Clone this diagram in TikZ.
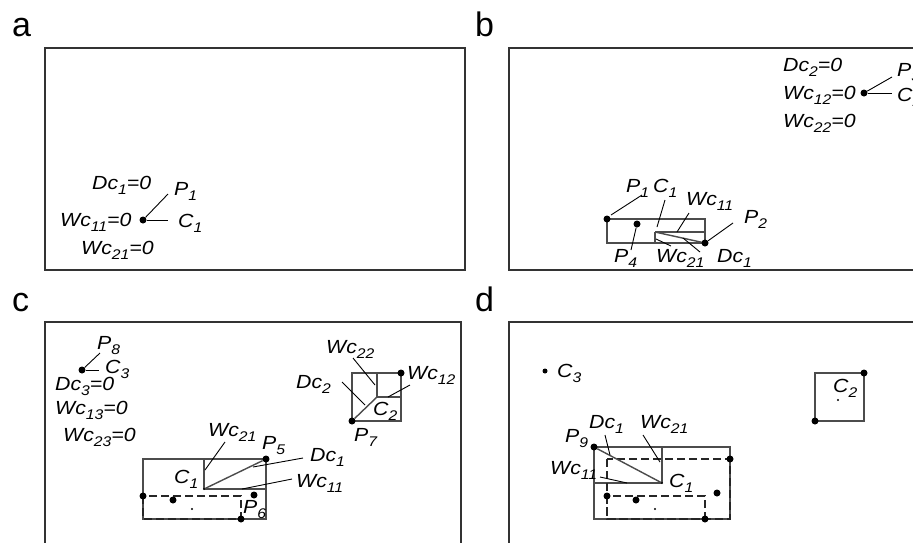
\documentclass[tikz,border=0pt]{standalone}
\usepackage{fontspec}
\usepackage{graphicx}
\setmainfont{Liberation Sans}
\newfontfamily\lblfam[FakeStretch=1.12]{Liberation Sans}
\newcommand{\lblfont}{\lblfam\fontsize{19}{21}\selectfont\itshape}
\newcommand{\sbx}[1]{\raisebox{-0.5ex}{\fontsize{14}{14}\selectfont #1}}
\tikzset{
  panel/.style={draw=black!80, line width=1.7pt},
  ln/.style={draw=black!70, line width=1.4pt},
  leader/.style={draw=black, line width=0.9pt},
  dashbox/.style={draw=black!85, line width=1.9pt, dash pattern=on 8pt off 4pt},
  dot/.style={circle, fill=black, inner sep=0pt, minimum size=7pt},
  sdot/.style={circle, fill=black, inner sep=0pt, minimum size=2.2pt},
  lab/.style={font=\lblfont, anchor=base west, inner sep=0pt},
  plab/.style={font=\fontsize{34}{36}\selectfont, anchor=base west, inner sep=0pt}
}
\begin{document}
\begin{tikzpicture}[x=1pt,y=-1pt]
\useasboundingbox (0,0) rectangle (913,542);
\clip (0,0) rectangle (913,542);
\fill[white] (0,0) rectangle (913,542);
% panel letters
\node[plab] (la) at (12,36) {a};
\node[plab] (lb) at (475,36) {b};
\node[plab] (lc) at (12,311) {c};
\node[plab] (ld) at (475,311) {d};
% panel borders
\draw[panel] (45,48) rectangle (465,270);
\draw[panel] (509,48) rectangle (930,270);
\draw[panel] (45,322) rectangle (461,560);
\draw[panel] (509,322) rectangle (930,560);

% ---------- panel a ----------
\node[dot] (a-c1) at (143,220) {};
\coordinate (a-p1e) at (168,194);
\coordinate (a-c1e) at (168,220);
\draw[leader] (a-c1) -- (a-p1e);
\draw[leader] (a-c1) -- (a-c1e);
\node[lab] (a-dc) at (92,189) {Dc\sbx{1}=0};
\node[lab] (a-wc11) at (60,226) {Wc\sbx{11}=0};
\node[lab] (a-wc21) at (81,254) {Wc\sbx{21}=0};
\node[lab] (a-p1) at (174,195) {P\sbx{1}};
\node[lab] (a-c1l) at (178,227) {C\sbx{1}};

% ---------- panel b ----------
\coordinate (b-tl) at (607,219);
\coordinate (b-br) at (705,243);
\coordinate (b-c1) at (655,232);
\coordinate (b-ir) at (705,232);
\coordinate (b-ib) at (655,243);
\draw[ln] (b-tl) rectangle (b-br);
\draw[ln] (b-c1) -- (b-ir);
\draw[ln] (b-c1) -- (b-ib);
\draw[ln] (b-c1) -- (b-br);
\node[dot] (b-p1) at (b-tl) {};
\node[dot] (b-p2) at (b-br) {};
\node[dot] (b-p4) at (637,224) {};
\coordinate (b-p1e) at (642,195);
\coordinate (b-p1s) at (611,215);
\coordinate (b-c1e) at (665,200);
\coordinate (b-c1s) at (657,227);
\coordinate (b-w11e) at (689,213);
\coordinate (b-w11s) at (677,232);
\coordinate (b-p2e) at (733,223);
\coordinate (b-p4e) at (631,250);
\coordinate (b-w21s) at (656,239);
\coordinate (b-w21e) at (671,246);
\coordinate (b-dcs) at (683,238);
\coordinate (b-dce) at (700,252);
\draw[leader] (b-p1s) -- (b-p1e);
\draw[leader] (b-c1s) -- (b-c1e);
\draw[leader] (b-w11s) -- (b-w11e);
\draw[leader] (b-p2) -- (b-p2e);
\draw[leader] (b-p4) -- (b-p4e);
\draw[leader] (b-w21s) -- (b-w21e);
\draw[leader] (b-dcs) -- (b-dce);
\node[lab] (b-p1l) at (626,192) {P\sbx{1}};
\node[lab] (b-c1l) at (653,192) {C\sbx{1}};
\node[lab] (b-w11l) at (686,205) {Wc\sbx{11}};
\node[lab] (b-p2l) at (744,223) {P\sbx{2}};
\node[lab] (b-p4l) at (614,262) {P\sbx{4}};
\node[lab] (b-w21l) at (656,262) {Wc\sbx{21}};
\node[lab] (b-dcl) at (717,262) {Dc\sbx{1}};
% top right of b
\node[dot] (b-c2) at (864,93) {};
\coordinate (b-p3e) at (892,77);
\coordinate (b-c2e) at (892,93);
\draw[leader] (b-c2) -- (b-p3e);
\draw[leader] (b-c2) -- (b-c2e);
\node[lab] (b-dc2) at (783,71) {Dc\sbx{2}=0};
\node[lab] (b-wc12) at (783,99) {Wc\sbx{12}=0};
\node[lab] (b-wc22) at (783,127) {Wc\sbx{22}=0};
\node[lab] (b-p3l) at (897,76) {P\sbx{3}};
\node[lab] (b-c2l) at (897,101) {C\sbx{2}};

% ---------- panel c ----------
\node[dot] (c-c3) at (82,370) {};
\coordinate (c-p8e) at (100,353);
\coordinate (c-c3e) at (99,370);
\draw[leader] (c-c3) -- (c-p8e);
\draw[leader] (c-c3) -- (c-c3e);
\node[lab] (c-p8l) at (97,349) {P\sbx{8}};
\node[lab] (c-c3l) at (105,373) {C\sbx{3}};
\node[lab] (c-dc3) at (55,390) {Dc\sbx{3}=0};
\node[lab] (c-wc13) at (55,414) {Wc\sbx{13}=0};
\node[lab] (c-wc23) at (63,441) {Wc\sbx{23}=0};
% C1 block
\coordinate (c-tl) at (143,459);
\coordinate (c-br) at (266,519);
\coordinate (c-c1) at (204,489);
\coordinate (c-it) at (204,459);
\coordinate (c-ir) at (266,489);
\draw[ln] (c-tl) rectangle (c-br);
\draw[ln] (c-c1) -- (c-it);
\draw[ln] (c-c1) -- (c-ir);
\node[dot] (c-p5) at (266,459) {};
\draw[ln] (c-c1) -- (c-p5);
\node[sdot] (c-c1d) at (c-c1) {};
\coordinate (c-dtl) at (143,496);
\coordinate (c-dbr) at (241,519);
\draw[dashbox] (c-dtl) rectangle (c-dbr);
\node[dot] (c-d1) at (c-dtl) {};
\node[dot] (c-d2) at (c-dbr) {};
\node[dot] (c-d3) at (173,500) {};
\node[dot] (c-p6) at (254,495) {};
\node[sdot] (c-d4) at (192,509) {};
\coordinate (c-w21s) at (225,442);
\coordinate (c-w21e) at (205,470);
\coordinate (c-dcs) at (303,458);
\coordinate (c-dce) at (253,467);
\coordinate (c-w11s) at (292,479);
\coordinate (c-w11e) at (242,489);
\draw[leader] (c-w21s) -- (c-w21e);
\draw[leader] (c-dcs) -- (c-dce);
\draw[leader] (c-w11s) -- (c-w11e);
\node[lab] (c-w21l) at (208,436) {Wc\sbx{21}};
\node[lab] (c-p5l) at (262,449) {P\sbx{5}};
\node[lab] (c-dcl) at (310,461) {Dc\sbx{1}};
\node[lab] (c-w11l) at (296,487) {Wc\sbx{11}};
\node[lab] (c-c1l) at (174,483) {C\sbx{1}};
\node[lab] (c-p6l) at (243,513) {P\sbx{6}};
% C2 block
\coordinate (c-stl) at (352,373);
\coordinate (c-sbr) at (401,421);
\coordinate (c-c2) at (377,397);
\coordinate (c-st) at (377,373);
\coordinate (c-sr) at (401,397);
\draw[ln] (c-stl) rectangle (c-sbr);
\draw[ln] (c-c2) -- (c-st);
\draw[ln] (c-c2) -- (c-sr);
\node[dot] (c-p7) at (352,421) {};
\node[dot] (c-s2) at (401,373) {};
\draw[ln] (c-p7) -- (c-c2);
\coordinate (c-w22s) at (353,358);
\coordinate (c-w22e) at (375,385);
\coordinate (c-dc2s) at (342,382);
\coordinate (c-dc2e) at (365,405);
\coordinate (c-w12s) at (410,385);
\coordinate (c-w12e) at (388,397);
\draw[leader] (c-w22s) -- (c-w22e);
\draw[leader] (c-dc2s) -- (c-dc2e);
\draw[leader] (c-w12s) -- (c-w12e);
\node[lab] (c-w22l) at (326,353) {Wc\sbx{22}};
\node[lab] (c-w12l) at (407,379) {Wc\sbx{12}};
\node[lab] (c-dc2l) at (296,388) {Dc\sbx{2}};
\node[lab] (c-c2l) at (373,415) {C\sbx{2}};
\node[lab] (c-p7l) at (354,441) {P\sbx{7}};

% ---------- panel d ----------
\node[circle, fill=black, inner sep=0pt, minimum size=5pt] (d-c3) at (545,371) {};
\node[lab] (d-c3l) at (557,377) {C\sbx{3}};
\coordinate (d-tl) at (594,447);
\coordinate (d-br) at (730,519);
\coordinate (d-c1) at (662,483);
\coordinate (d-il) at (594,483);
\coordinate (d-it) at (662,447);
\draw[ln] (d-tl) rectangle (d-br);
\draw[ln] (d-c1) -- (d-il);
\draw[ln] (d-c1) -- (d-it);
\coordinate (d-btl) at (607,459);
\draw[dashbox] (d-btl) rectangle (d-br);
\coordinate (d-stl) at (607,496);
\coordinate (d-sbr) at (705,519);
\draw[dashbox] (d-stl) rectangle (d-sbr);
\node[dot] (d-p9) at (d-tl) {};
\draw[ln] (d-p9) -- (d-c1);
\node[sdot] (d-c1d) at (d-c1) {};
\node[dot] (d-b1) at (730,459) {};
\node[dot] (d-b2) at (d-stl) {};
\node[dot] (d-b3) at (d-sbr) {};
\node[dot] (d-b4) at (636,500) {};
\node[dot] (d-b5) at (717,493) {};
\node[sdot] (d-b6) at (655,509) {};
\coordinate (d-dcs) at (605,435);
\coordinate (d-dce) at (610,455);
\coordinate (d-w21s) at (643,435);
\coordinate (d-w21e) at (660,462);
\coordinate (d-w11s) at (600,477);
\coordinate (d-w11e) at (627,483);
\draw[leader] (d-dcs) -- (d-dce);
\draw[leader] (d-w21s) -- (d-w21e);
\draw[leader] (d-w11s) -- (d-w11e);
\node[lab] (d-dcl) at (589,428) {Dc\sbx{1}};
\node[lab] (d-w21l) at (640,428) {Wc\sbx{21}};
\node[lab] (d-p9l) at (565,442) {P\sbx{9}};
\node[lab] (d-w11l) at (550,474) {Wc\sbx{11}};
\node[lab] (d-c1l) at (669,487) {C\sbx{1}};
% C2 square
\coordinate (d-qtl) at (815,373);
\coordinate (d-qbr) at (864,421);
\draw[ln] (d-qtl) rectangle (d-qbr);
\node[dot] (d-q1) at (864,373) {};
\node[dot] (d-q2) at (815,421) {};
\node[sdot] (d-q3) at (838,400) {};
\node[lab] (d-c2l) at (833,392) {C\sbx{2}};
\end{tikzpicture}
\end{document}
